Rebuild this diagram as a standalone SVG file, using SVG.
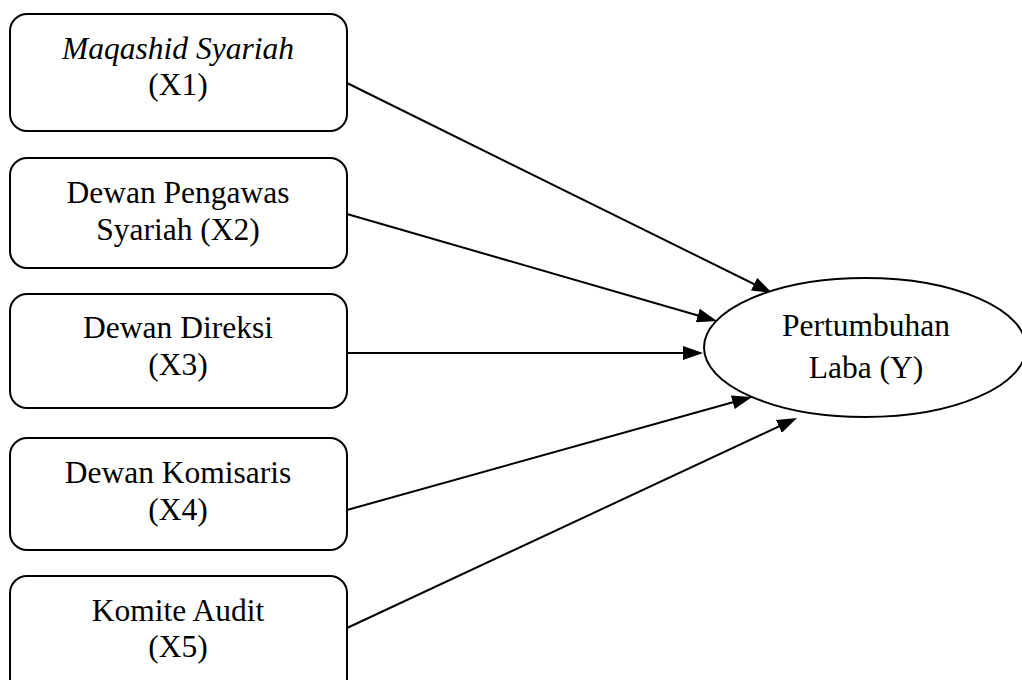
<svg xmlns="http://www.w3.org/2000/svg" width="1022" height="680" viewBox="0 0 1022 680">
  <style>
    .box { fill: #ffffff; stroke: #000000; stroke-width: 2; }
    .ell { fill: #ffffff; stroke: #000000; stroke-width: 2; }
    .lbl { font-family: "Liberation Serif", "Times New Roman", serif; font-size: 31.5px; fill: #000000; text-anchor: middle; }
    .it { font-style: italic; }
    .edge { fill: none; stroke: #000000; stroke-width: 2; marker-end: url(#arrow); }
  </style>
  <defs>
    <marker id="arrow" viewBox="0 0 20 14" markerUnits="userSpaceOnUse" markerWidth="20" markerHeight="14" refX="2" refY="7" orient="auto">
      <path d="M0,0 L20,7 L0,14 z" fill="#000000"/>
    </marker>
  </defs>
  <rect width="1022" height="680" fill="#ffffff"/>
  <g id="connectors">
    <line class="edge" x1="347" y1="83" x2="755.9" y2="285.0"/>
    <line class="edge" x1="347" y1="214" x2="699.7" y2="316.0"/>
    <line class="edge" x1="347" y1="353" x2="685" y2="353"/>
    <line class="edge" x1="347" y1="510" x2="734.7" y2="401.8"/>
    <line class="edge" x1="347" y1="628" x2="780.7" y2="425.6"/>
  </g>
  <g id="node-x1">
    <rect class="box" x="10" y="14" width="337" height="117" rx="17"/>
    <text class="lbl it" x="178" y="59">Maqashid Syariah</text>
    <text class="lbl" x="178" y="95">(X1)</text>
  </g>
  <g id="node-x2">
    <rect class="box" x="10" y="158" width="337" height="110" rx="17"/>
    <text class="lbl" x="178" y="203">Dewan Pengawas</text>
    <text class="lbl" x="178" y="240">Syariah (X2)</text>
  </g>
  <g id="node-x3">
    <rect class="box" x="10" y="294" width="337" height="114" rx="17"/>
    <text class="lbl" x="178" y="338">Dewan Direksi</text>
    <text class="lbl" x="178" y="375">(X3)</text>
  </g>
  <g id="node-x4">
    <rect class="box" x="10" y="438" width="337" height="112" rx="17"/>
    <text class="lbl" x="178" y="483">Dewan Komisaris</text>
    <text class="lbl" x="178" y="520">(X4)</text>
  </g>
  <g id="node-x5">
    <rect class="box" x="10" y="576" width="337" height="120" rx="17"/>
    <text class="lbl" x="178" y="621">Komite Audit</text>
    <text class="lbl" x="178" y="657">(X5)</text>
  </g>
  <g id="node-y">
    <ellipse class="ell" cx="865" cy="347.5" rx="161" ry="69.5"/>
    <text class="lbl" x="866" y="336">Pertumbuhan</text>
    <text class="lbl" x="866" y="378">Laba (Y)</text>
  </g>
</svg>
